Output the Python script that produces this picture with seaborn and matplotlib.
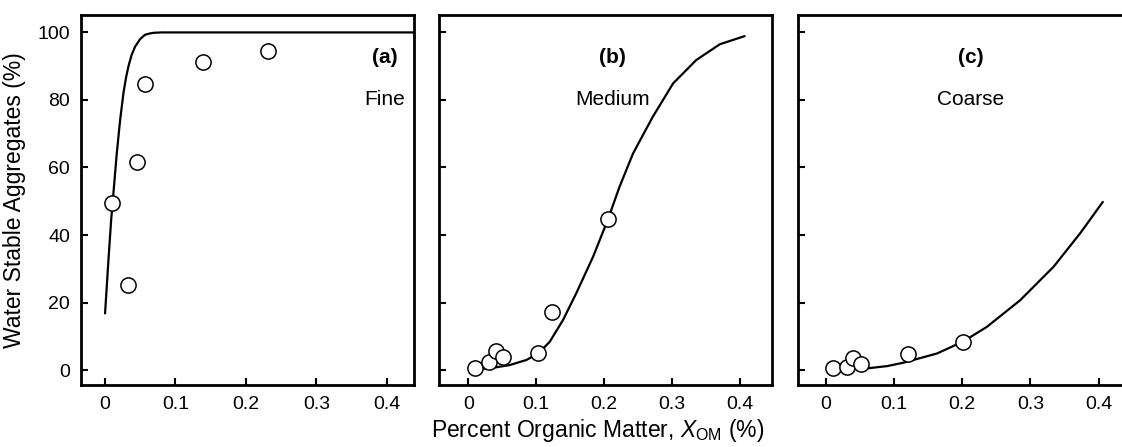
import matplotlib
matplotlib.use("Agg")
import matplotlib.pyplot as plt
import seaborn as sns
import pandas as pd

sns.set_theme(style="ticks")
plt.rcParams['font.family'] = ['Liberation Sans', 'DejaVu Sans']
plt.rcParams['mathtext.fontset'] = 'custom'
plt.rcParams['mathtext.rm'] = 'Liberation Sans'
plt.rcParams['mathtext.it'] = 'Liberation Sans:italic'
plt.rcParams['text.color'] = 'black'
plt.rcParams['axes.labelcolor'] = 'black'
plt.rcParams['xtick.color'] = 'black'
plt.rcParams['ytick.color'] = 'black'
plt.rcParams['axes.edgecolor'] = 'black'

# ---- data: observed points ----
fine_x = [0.0099, 0.0336, 0.0463, 0.0577, 0.139, 0.232]
fine_y = [49.5, 25.2, 61.7, 84.7, 91.1, 94.6]
medium_x = [0.0093, 0.030, 0.041, 0.051, 0.103, 0.124, 0.206]
medium_y = [0.5, 2.5, 5.7, 3.9, 5.2, 17.1, 44.7]
coarse_x = [0.0107, 0.030, 0.040, 0.051, 0.121, 0.2007]
coarse_y = [0.5, 1.0, 3.7, 1.8, 4.9, 8.4]

# ---- data: fitted curves ----
fine_cx = [0.0004, 0.005, 0.009, 0.0122, 0.017, 0.0217, 0.0265, 0.030, 0.0336, 0.038, 0.043,
           0.050, 0.057, 0.064, 0.070, 0.081, 0.44]
fine_cy = [16.8, 32.0, 44.4, 52.3, 64.2, 74.0, 82.1, 86.5, 90.0, 93.3, 95.8,
           98.0, 99.3, 99.7, 99.9, 100.0, 100.0]
medium_cx = [0.0167, 0.040, 0.061, 0.0855, 0.103, 0.120, 0.1395, 0.159, 0.184, 0.206, 0.223,
             0.243, 0.272, 0.302, 0.336, 0.371, 0.4075]
medium_cy = [0.3, 0.8, 1.5, 3.0, 4.9, 8.4, 14.8, 22.7, 33.6, 44.7, 54.3,
             64.2, 75.0, 84.9, 91.8, 96.5, 98.9]
coarse_cx = [0.0597, 0.090, 0.1135, 0.1625, 0.2007, 0.236, 0.285, 0.334, 0.373, 0.4063]
coarse_cy = [0.5, 1.2, 2.2, 4.9, 8.4, 12.8, 20.7, 30.6, 40.5, 49.8]

panels = [
    ("(a)", "Fine", fine_x, fine_y, fine_cx, fine_cy, (-0.0337, 0.438), 0.397),
    ("(b)", "Medium", medium_x, medium_y, medium_cx, medium_cy, (-0.043, 0.448), 0.212),
    ("(c)", "Coarse", coarse_x, coarse_y, coarse_cx, coarse_cy, (-0.0416, 0.447), 0.2125),
]
xticks = [0, 0.1, 0.2, 0.3, 0.4]
xticklabels = ["0", "0.1", "0.2", "0.3", "0.4"]
yticks = [0, 20, 40, 60, 80, 100]

fig = plt.figure(figsize=(11.22, 4.47), dpi=100)
lefts = [0.0722, 0.3915, 0.7110]
width = 0.2966
axes = [fig.add_axes([l, 0.138, width, 0.828]) for l in lefts]

for i, (ax, (tag, name, px, py, cx, cy, xl, tx)) in enumerate(zip(axes, panels)):
    cdf = pd.DataFrame({"x": cx, "y": cy})
    pdf = pd.DataFrame({"x": px, "y": py})
    sns.lineplot(data=cdf, x="x", y="y", ax=ax, color="black", linewidth=1.6,
                 sort=False, estimator=None, zorder=2)
    sns.scatterplot(data=pdf, x="x", y="y", ax=ax, s=120, facecolor="white",
                    edgecolor="black", linewidth=1.1, zorder=3)
    ax.set_xlim(*xl)
    ax.set_ylim(-4.5, 105.1)
    ax.set_xticks(xticks)
    ax.set_xticklabels(xticklabels)
    ax.set_yticks(yticks)
    if i == 0:
        ax.set_ylabel("Water Stable Aggregates (%)", fontsize=16.5)
    else:
        ax.set_yticklabels([])
        ax.set_ylabel("")
    if i == 1:
        ax.set_xlabel(r"Percent Organic Matter, $\mathit{X}_{\mathrm{OM}}$ (%)", fontsize=16.5)
    else:
        ax.set_xlabel("")
    ax.tick_params(direction="in", length=5, width=1.5, labelsize=14, pad=8,
                   top=False, right=False, colors="black")
    for sp in ax.spines.values():
        sp.set_linewidth(2.0)
        sp.set_color("black")
        sp.set_visible(True)
    ax.text(tx, 92.7, tag, ha="center", va="center", fontsize=15, fontweight="bold", color="black")
    ax.text(tx, 80.2, name, ha="center", va="center", fontsize=15, color="black")

axes[0].yaxis.set_label_coords(-0.165, 0.5)
axes[1].xaxis.set_label_coords(0.475, -0.085)
fig.savefig("out.png", dpi=100)
